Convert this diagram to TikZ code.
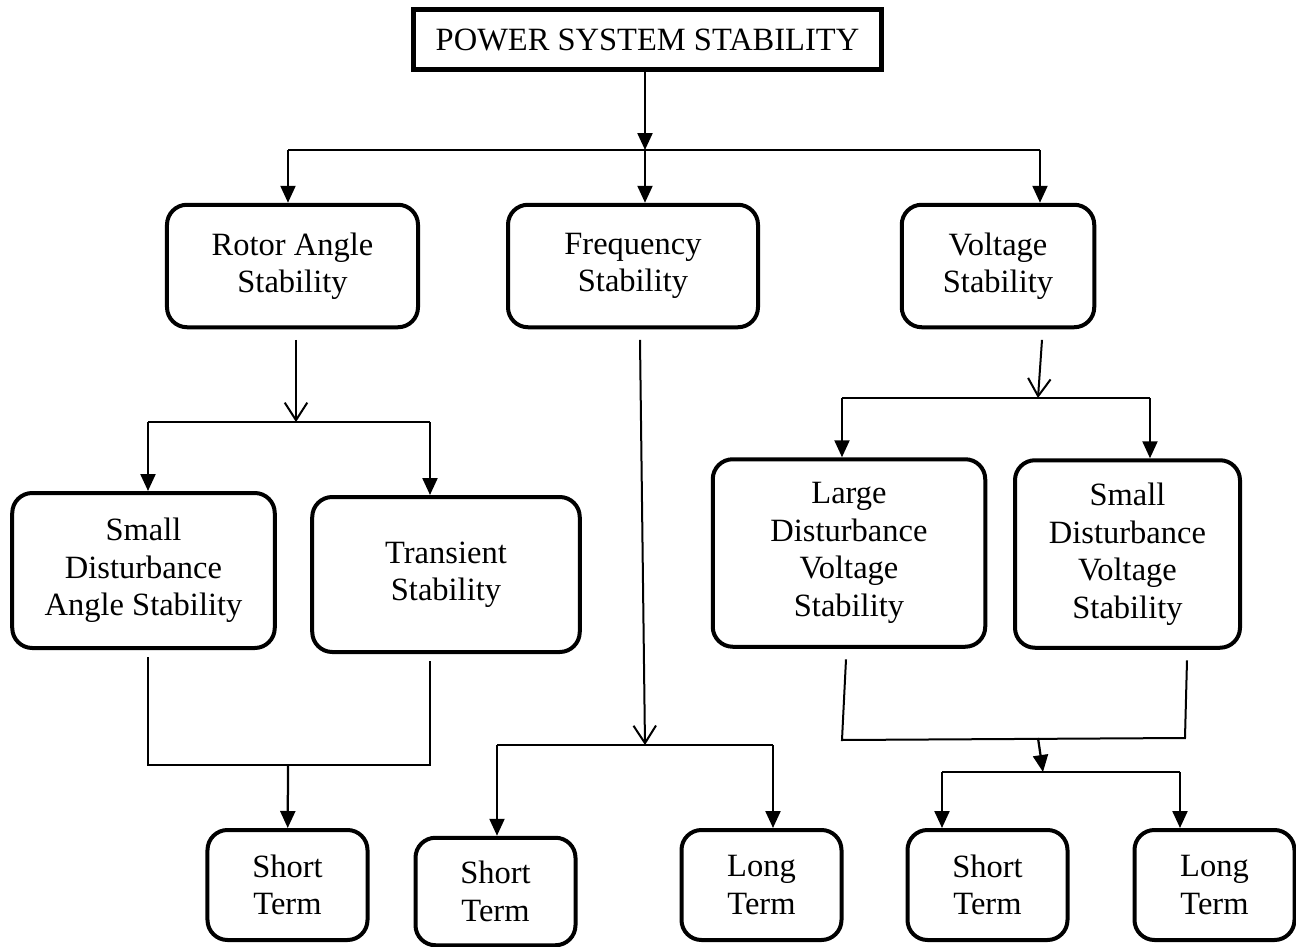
\documentclass[tikz,border=0pt]{standalone}
\usepackage{fontspec}
\setmainfont{Liberation Serif}
\usetikzlibrary{arrows.meta}
\begin{document}
\begin{tikzpicture}[x=0.4pt,y=-0.4pt,
		txt/.style={align=center,font=\fontsize{13}{15}\selectfont,inner sep=0pt},
		box/.style={txt,draw,line width=1.6pt,rounded corners=8pt},
		topbox/.style={txt,draw,line width=1.8pt},
		line/.style={line width=0.8pt},
		farrow/.style={line width=0.9pt,-{Triangle[length=6.8pt,width=6pt]}},
		oarrow/.style={line width=0.8pt,-{Straight Barb[length=7pt,width=9pt]}}]
		\useasboundingbox (0,0) rectangle (1296,947);
		
		% top
		\node[topbox,minimum width=187pt,minimum height=24pt] (pss) at (647.5,39.5) {POWER SYSTEM STABILITY};
		
		% first level
		\node[box,minimum width=100.4pt,minimum height=49pt] (rotor) at (292.5,266) {Rotor Angle\\Stability};
		\node[box,minimum width=100pt,minimum height=49pt] (freq) at (633,266) {Frequency\\Stability};
		\node[box,minimum width=77pt,minimum height=49pt] (volt) at (998,266) {Voltage\\Stability};
		
		% second level
		\node[box,minimum width=105pt,minimum height=62pt] (sdas) at (143.5,570.5) {Small\\Disturbance\\Angle Stability};
		\node[box,minimum width=107pt,minimum height=62pt] (trans) at (446,574.5) {Transient\\Stability};
		\node[box,minimum width=109pt,minimum height=75pt] (ldvs) at (849,553) {Large\\Disturbance\\Voltage\\Stability};
		\node[box,minimum width=90pt,minimum height=75pt] (sdvs) at (1127.5,554) {Small\\Disturbance\\Voltage\\Stability};
		
		% third level
		\node[box,minimum width=64pt,minimum height=44pt] (st1) at (287.5,885) {Short\\Term};
		\node[box,minimum width=64pt,minimum height=43pt] (st2) at (495.5,891.5) {Short\\Term};
		\node[box,minimum width=64pt,minimum height=44pt] (lt1) at (761.5,885) {Long\\Term};
		\node[box,minimum width=64pt,minimum height=44pt] (st3) at (987.5,885) {Short\\Term};
		\node[box,minimum width=64pt,minimum height=44pt] (lt2) at (1214.5,885) {Long\\Term};
		
		% junctions
		\coordinate (j1) at (645,150);
		\coordinate (j1l) at (288,150);
		\coordinate (j1r) at (1040,150);
		\coordinate (j2) at (296,422);
		\coordinate (j2l) at (148,422);
		\coordinate (j2r) at (430,422);
		\coordinate (j3) at (288,765);
		\coordinate (j4) at (645,745);
		\coordinate (j4l) at (497,745);
		\coordinate (j4r) at (773,745);
		\coordinate (j5) at (1038,398);
		\coordinate (j5l) at (842,398);
		\coordinate (j5r) at (1150,398);
		\coordinate (j6) at (1038,738);
		\coordinate (j7) at (1043,772);
		\coordinate (j7l) at (942,772);
		\coordinate (j7r) at (1180,772);
		
		% top split
		\draw[farrow] (pss.south -| j1) -- (j1);
		\draw[line] (j1l) -- (j1r);
		\draw[farrow] (j1l) -- (j1l |- rotor.north);
		\draw[farrow] (j1) -- (j1 |- freq.north);
		\draw[farrow] (j1r) -- (j1r |- volt.north);
		
		% rotor angle branch
		\draw[oarrow] ([yshift=-1.5mm]rotor.south -| j2) -- (j2);
		\draw[line] (j2l) -- (j2r);
		\draw[farrow] (j2l) -- (j2l |- sdas.north);
		\draw[farrow] (j2r) -- (j2r |- trans.north);
		\draw[line] ([yshift=-1mm]sdas.south -| j2l) |- (j3) -| ([yshift=-1mm]trans.south -| j2r);
		\draw[farrow] (j3) -- (st1);
		
		% frequency branch
		\draw[oarrow] ([xshift=2.8pt,yshift=-1.5mm]freq.south) -- (j4);
		\draw[line] (j4l) -- (j4r);
		\draw[farrow] (j4l) -- (j4l |- st2.north);
		\draw[farrow] (j4r) -- (j4r |- lt1.north);
		
		% voltage branch
		\draw[oarrow] ([xshift=1.6pt,yshift=-1.5mm]j5 |- volt.south) -- (j5);
		\draw[line] (j5l) -- (j5r);
		\draw[farrow] (j5l) -- (j5l |- ldvs.north);
		\draw[farrow] (j5r) -- (j5r |- sdvs.north);
		\draw[line] ([xshift=-1.2pt,yshift=-1.5mm]ldvs.south) -- (842,740) -- (1185,738) -- ([xshift=23.8pt,yshift=-1.5mm]sdvs.south);
		\draw[farrow] (j6) -- (j7);
		\draw[line] (j7l) -- (j7r);
		\draw[farrow] (j7l) -- (j7l |- st3.north);
		\draw[farrow] (j7r) -- (j7r |- lt2.north);
\end{tikzpicture}
\end{document}
